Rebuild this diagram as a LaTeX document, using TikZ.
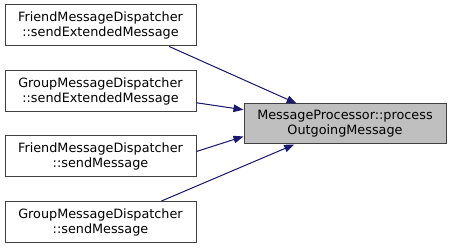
\documentclass[tikz,border=0pt]{standalone}
\usepackage{fontspec}
\setmainfont{DejaVu Sans}
\usetikzlibrary{arrows.meta}
\definecolor{edgeblue}{RGB}{25,25,112}
\definecolor{procgrey}{RGB}{191,191,191}
\tikzset{
  fbox/.style={draw=black!75,line width=1pt,align=center,inner sep=2pt,fill=white,
    minimum width=191pt,minimum height=41pt,font=\fontsize{12.8}{15}\selectfont},
  pbox/.style={fbox,fill=procgrey,minimum width=202pt,minimum height=40pt},
  call/.style={-{Triangle[length=10pt,width=7.5pt]},line width=1pt,draw=edgeblue,fill=edgeblue}
}
\begin{document}
\begin{tikzpicture}[x=1pt,y=-1pt]
  \useasboundingbox (0,0) rectangle (451,248);
  % callers on the left, callee on the right
  \node[fbox] (fext) at (100.5,25.5) {FriendMessageDispatcher\\::sendExtendedMessage};
  \node[fbox] (gext) at (100.5,91)   {GroupMessageDispatcher\\::sendExtendedMessage};
  \node[fbox] (fsnd) at (100.5,156.5){FriendMessageDispatcher\\::sendMessage};
  \node[fbox] (gsnd) at (100.5,222)  {GroupMessageDispatcher\\::sendMessage};
  \node[pbox] (proc) at (345,124)    {MessageProcessor::process\\OutgoingMessage};
  \draw[call] (fext.-17.6) -- (proc.157.4);
  \draw[call] (gext.-7.8)  -- (proc.172.7);
  \draw[call] (fsnd.3.9)   -- (proc.187.8);
  \draw[call] (gsnd.19)    -- (proc.202.6);
\end{tikzpicture}
\end{document}
